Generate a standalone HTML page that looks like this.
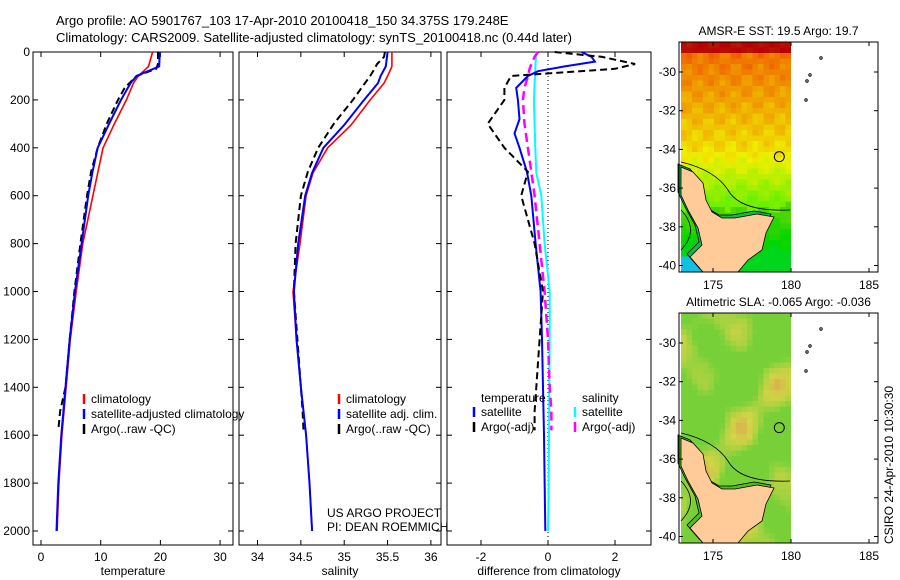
<!DOCTYPE html>
<html><head><meta charset="utf-8"><style>
body{margin:0;background:#fff}
svg{display:block;font-family:"Liberation Sans",sans-serif;font-size:12px}
</style></head><body>
<svg id="c" width="900" height="580" xmlns="http://www.w3.org/2000/svg">
<text x="56" y="25" font-size="13">Argo profile: AO 5901767_103 17-Apr-2010 20100418_150 34.375S 179.248E</text>
<text x="56" y="42" font-size="13">Climatology: CARS2009. Satellite-adjusted climatology: synTS_20100418.nc (0.44d later)</text>
<g id="g1"></g>
<g id="g2"></g>
<g id="g3"></g>
<g id="m1"></g>
<g id="m2"></g>
<text transform="translate(893,465) rotate(-90)" text-anchor="middle">CSIRO 24-Apr-2010 10:30:30</text>
</svg>
<script>
const depthTicks=[0,200,400,600,800,1000,1200,1400,1600,1800,2000];
const depths=[0,60,100,130,200,305,400,505,600,800,1000,1200,1400,1600,1800,2000];
const tempClim=[18.7,18.0,16.3,15.5,14.3,12.2,10.4,9.5,8.7,7.0,5.9,4.9,4.2,3.5,3.0,2.7];
const tempSat=[19.9,19.8,16.0,15.0,13.4,11.3,9.5,8.6,7.9,6.8,5.7,4.8,4.1,3.4,2.9,2.6];
const argoDepths=[0,20,50,70,100,150,200,300,400,500,600,800,1000,1200,1400,1500,1580];
const tempArgo=[19.6,19.6,19.6,19.3,16.0,14.0,12.9,11.0,9.5,8.4,7.7,6.6,5.6,4.8,4.1,3.2,2.9];
const salClim=[35.55,35.55,35.5,35.46,35.3,35.08,34.81,34.64,34.56,34.49,34.41,34.45,34.5,34.56,34.6,34.63];
const salSat=[35.5,35.48,35.42,35.39,35.23,35.0,34.76,34.63,34.55,34.47,34.42,34.45,34.5,34.56,34.6,34.63];
const salArgo=[35.47,35.46,35.38,35.35,35.3,35.2,35.1,34.88,34.7,34.58,34.5,34.44,34.42,34.46,34.5,34.52,34.53];
const tDepths=[0,20,40,60,80,100,150,200,280,340,400,500,600,800,1000,1200,1600,2000];
const dTempSat=[1.0,1.3,1.4,0.5,-0.3,-0.6,-0.95,-0.9,-0.85,-1.0,-0.85,-0.63,-0.5,-0.37,-0.22,-0.18,-0.12,-0.08];
const dTempArgo=[0.2,1.6,2.6,2.0,-1.1,-1.3,-1.3,-1.8,-1.3,-0.6,-0.8,-0.4,-0.15,-0.25,-0.35,-0.4,-0.4];
const dSalSat=[-0.35,-0.38,-0.38,-0.4,-0.42,-0.4,-0.38,-0.35,-0.2,-0.1,0.05,0.05,0.04,0.03,0.02,0.0];
const dSalArgo=[-0.3,-0.4,-0.5,-0.55,-0.6,-0.7,-0.75,-0.7,-0.6,-0.5,-0.4,-0.25,-0.1,0.0,0.05,0.1,0.1];
const tempTicks=[0,10,20,30], salTicks=[34,34.5,35,35.5,36], diffTicks=[-2,0,2];
const latTicks=[-30,-32,-34,-36,-38,-40], lonTicks=[175,180,185];

const NS='http://www.w3.org/2000/svg';
function mk(p,t,a){const e=document.createElementNS(NS,t);for(const k in a)e.setAttribute(k,a[k]);p.appendChild(e);return e;}
const Y0=52,Y1=545;
const yD=d=>52+d*0.2395;
function panel(g,x0,x1,xs,ticks,label,showY){
  mk(g,'rect',{x:x0,y:Y0,width:x1-x0,height:Y1-Y0,fill:'none',stroke:'#000'});
  ticks.forEach(t=>{const x=xs(t);
    mk(g,'line',{x1:x,x2:x,y1:Y1,y2:Y1-5,stroke:'#000'});mk(g,'line',{x1:x,x2:x,y1:Y0,y2:Y0+5,stroke:'#000'});
    const tx=mk(g,'text',{x:x,y:Y1+16,'text-anchor':'middle'});tx.textContent=t;
    
    });
  depthTicks.forEach(d=>{const y=yD(d);
    mk(g,'line',{x1:x0,x2:x0+5,y1:y,y2:y,stroke:'#000'});mk(g,'line',{x1:x1,x2:x1-5,y1:y,y2:y,stroke:'#000'});
    if(showY){const tx=mk(g,'text',{x:x0-3,y:y+4,'text-anchor':'end'});tx.textContent=d;
      
      }});
  const l=mk(g,'text',{x:(x0+x1)/2,y:575,'text-anchor':'middle'});l.textContent=label;
  
  
}
function line(g,ds,vs,xs,col,w,dash,name){
  const p=ds.map((d,i)=>xs(vs[i]).toFixed(1)+','+yD(d).toFixed(1)).join(' ');
  const e=mk(g,'polyline',{points:p,fill:'none',stroke:col,'stroke-width':w});
  if(dash)e.setAttribute('stroke-dasharray',dash);
  
  
}
function legend(g,x,y,col,txt){
  mk(g,'line',{x1:x,x2:x,y1:y-9,y2:y+1,stroke:col,'stroke-width':2.5});
  const t=mk(g,'text',{x:x+7,y:y});t.textContent=txt;
  
  
}
const g1=document.getElementById('g1'),g2=document.getElementById('g2'),g3=document.getElementById('g3');
const xT=v=>41+v*5.97; panel(g1,33,233,xT,tempTicks,'temperature',true);
line(g1,depths,tempClim,xT,'#f00',1.6,null,'temp-climatology-line');
line(g1,argoDepths,tempArgo,xT,'#000',2,'7,4','temp-argo-line');
line(g1,depths,tempSat,xT,'#00f',2,null,'temp-satellite-line');
legend(g1,84,403,'#f00','climatology');legend(g1,84,418,'#00f','satellite-adjusted climatology');legend(g1,84,433,'#000','Argo(..raw -QC)');
const xS=v=>257.5+(v-34)*86.7; panel(g2,239,441,xS,salTicks,'salinity',false);
line(g2,depths,salClim,xS,'#f00',1.6,null,'sal-climatology-line');
line(g2,argoDepths,salArgo,xS,'#000',2,'7,4','sal-argo-line');
line(g2,depths,salSat,xS,'#00f',2,null,'sal-satellite-line');
legend(g2,339,403,'#f00','climatology');legend(g2,339,418,'#00f','satellite adj. clim.');legend(g2,339,433,'#000','Argo(..raw -QC)');
let t=mk(g2,'text',{x:327,y:517});t.textContent='US ARGO PROJECT';
t=mk(g2,'text',{x:327,y:531});t.textContent='PI: DEAN ROEMMICH';
const xD=v=>548+v*33.5; panel(g3,447,651,xD,diffTicks,'difference from climatology',false);
mk(g3,'line',{x1:548,x2:548,y1:Y0,y2:Y1,stroke:'#000','stroke-dasharray':'1,3'});
line(g3,depths,dSalSat,xD,'#0ff',2,null,'sal-satellite-diff-line');
line(g3,argoDepths,dSalArgo,xD,'#f0f',2.5,'9,5','sal-argo-diff-line');
line(g3,tDepths,dTempSat,xD,'#00f',2,null,'temp-satellite-diff-line');
line(g3,argoDepths,dTempArgo,xD,'#000',2,'7,4','temp-argo-diff-line');
t=mk(g3,'text',{x:481,y:402});t.textContent='temperature';
legend(g3,474,416,'#00f','satellite');legend(g3,474,431,'#000','Argo(-adj)');
t=mk(g3,'text',{x:582,y:402});t.textContent='salinity';
legend(g3,575,416,'#0ff','satellite');legend(g3,575,431,'#f0f','Argo(-adj)');

function map(g,top,title,sst){
  const x0=679,x1=878,y1=top+230;
  const lon=v=>713+(v-175)*15.6, lat=v=>top+30+(-30-v)*19.35;
  const t=mk(g,'text',{x:(x0+x1)/2,y:top-7,'text-anchor':'middle'});t.textContent=title;
  
  
  const cw=5.5;
  for(let yy=top;yy<y1;yy+=cw)for(let xx=681;xx<791;xx+=cw){
    const f=(yy-top)/230, n=Math.sin(xx*1.7+yy*0.9)*Math.cos(xx*0.31-yy*2.3);
    let c;
    if(sst){let h=f<0.04?3:(f<0.46?28+(f-0.04)*65:55+(f-0.46)*160); h+=n*6;
      h=Math.max(0,Math.min(128,h));
      const l=f<0.04?36:(h>95?42:47);
      c=`hsl(${h.toFixed(0)},100%,${l}%)`;
      if(f>0.92&&xx<730)c='hsl(190,85%,48%)';}
    else{const b=Math.sin(xx*0.09+1)*Math.sin(yy*0.07)+Math.sin((xx+yy)*0.05)*0.6+n*0.1;
      c=`hsl(${Math.round(95-Math.max(0,b)*30)},62%,${52+Math.max(0,b)*3}%)`;}
    mk(g,'rect',{x:xx,y:yy,width:cw+0.3,height:Math.min(cw+0.3,y1-yy),fill:c});
  }
  mk(g,'rect',{x:791,y:top,width:87,height:230,fill:'#fff'});
  const off=top-42;
  mk(g,'path',{d:`M681 ${162+off} Q715 ${170+off} 728 ${190+off} Q740 ${212+off} 790 ${210+off}`,fill:'none',stroke:'#000','stroke-width':0.8});
  const land=[[681,167],[693,172],[703,183],[706,200],[712,212],[722,218],[735,218],[757,214],[774,217],[766,233],[762,250],[748,260],[738,272],[703,272],[690,257],[702,245],[698,228],[688,210],[681,195]];
  mk(g,'polygon',{points:land.map(p=>(p[0]-3)+','+(p[1]+off-3)).join(' '),fill:sst?'#1b4':'#5b2',stroke:'#000','stroke-width':0.8});
  mk(g,'polygon',{points:land.map(p=>p[0]+','+(p[1]+off)).join(' '),fill:'#fc9',stroke:'#000','stroke-width':0.8});
  mk(g,'path',{d:`M681 ${210+off} Q700 ${230+off} 681 ${250+off}`,fill:'none',stroke:'#000','stroke-width':0.8});
  mk(g,'circle',{cx:lon(179.25),cy:lat(-34.375),r:5,fill:'none',stroke:'#000'});
  [[821,58],[810,75],[807,81],[806,100]].forEach(p=>mk(g,'circle',{cx:p[0],cy:p[1]+off,r:1.2,fill:'none',stroke:'#000'}));
  mk(g,'rect',{x:x0,y:top,width:x1-x0,height:230,fill:'none',stroke:'#000'});
  latTicks.forEach(v=>{const y=lat(v);mk(g,'line',{x1:x0,x2:x0+4,y1:y,y2:y,stroke:'#000'});mk(g,'line',{x1:x1,x2:x1-4,y1:y,y2:y,stroke:'#000'});
    const tx=mk(g,'text',{x:x0-3,y:y+4,'text-anchor':'end'});tx.textContent=v;
    
    });
  lonTicks.forEach(v=>{const x=lon(v);mk(g,'line',{x1:x,x2:x,y1:y1,y2:y1-4,stroke:'#000'});mk(g,'line',{x1:x,x2:x,y1:top,y2:top+4,stroke:'#000'});
    const tx=mk(g,'text',{x:x,y:y1+17,'text-anchor':'middle'});tx.textContent=v;
    
    });
}
map(document.getElementById('m1'),42,'AMSR-E SST: 19.5 Argo: 19.7',true);
map(document.getElementById('m2'),313,'Altimetric SLA: -0.065 Argo: -0.036',false);
</script>
</body></html>
